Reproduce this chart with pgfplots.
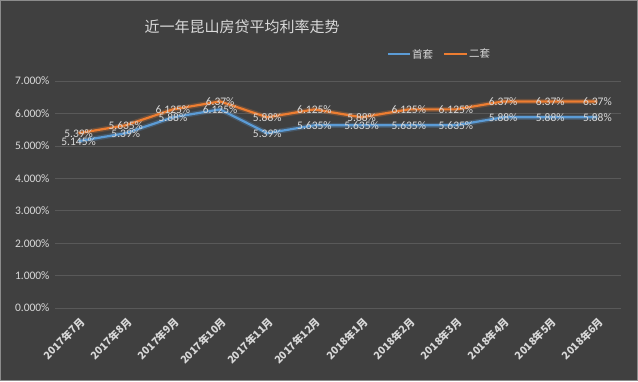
\documentclass[border=0pt]{standalone}
\usepackage{pgfplots}
\pgfplotsset{compat=1.18}
\usepackage{fontspec}
\setmainfont{Carlito}
\newfontfamily\cjk{Noto Sans CJK SC}
\definecolor{bg}{HTML}{404040}
\definecolor{txt}{HTML}{D9D9D9}
\definecolor{gridc}{HTML}{595959}
\definecolor{sblue}{HTML}{5B9BD5}
\definecolor{sorange}{HTML}{ED7D31}
\begin{document}
\begin{tikzpicture}
\useasboundingbox (-55pt,-73pt) rectangle (583pt,308pt);
\fill[bg] (-55pt,-73pt) rectangle (583pt,308pt);
\draw[black!45,line width=0.8pt] (-54.6pt,-72.6pt) rectangle (582.6pt,307.6pt);
\begin{axis}[
  at={(0pt,0pt)}, anchor=south west,
  scale only axis, width=566pt, height=227pt,
  xmin=-0.5, xmax=11.5, ymin=0, ymax=7,
  axis line style={draw=none},
  tick style={draw=none},
  ymajorgrids, grid style={gridc, line width=0.6pt},
  ytick={0,1,2,3,4,5,6,7},
  yticklabels={0.000\%,1.000\%,2.000\%,3.000\%,4.000\%,5.000\%,6.000\%,7.000\%},
  yticklabel style={font=\fontsize{11.5}{13}\selectfont, text=txt, xshift=-2pt},
  xtick={0,...,11},
  xticklabels={2017年7月,2017年8月,2017年9月,2017年10月,2017年11月,2017年12月,2018年1月,2018年2月,2018年3月,2018年4月,2018年5月,2018年6月},
  xticklabel style={font=\cjk\bfseries\fontsize{10.5}{12}\selectfont, text=txt, xshift=5pt, yshift=-11pt, rotate=45, anchor=east, inner sep=1pt},
  nodes near coords, point meta=explicit symbolic,
  every node near coord/.style={anchor=center, font=\fontsize{11.5}{13}\selectfont, text=txt},
  clip=false,
]
\addplot[sorange, line width=5pt, opacity=0.25, nodes near coords={}, forget plot] coordinates {(0,5.39)(1,5.635)(2,6.125)(3,6.37)(4,5.88)(5,6.125)(6,5.88)(7,6.125)(8,6.125)(9,6.37)(10,6.37)(11,6.37)};
\addplot[sblue, line width=5pt, opacity=0.25, nodes near coords={}, forget plot] coordinates {(0,5.145)(1,5.39)(2,5.88)(3,6.125)(4,5.39)(5,5.635)(6,5.635)(7,5.635)(8,5.635)(9,5.88)(10,5.88)(11,5.88)};
\addplot[sorange, line width=2.2pt] coordinates {(0,5.39)[5.39\%](1,5.635)[5.635\%](2,6.125)[6.125\%](3,6.37)[6.37\%](4,5.88)[5.88\%](5,6.125)[6.125\%](6,5.88)[5.88\%](7,6.125)[6.125\%](8,6.125)[6.125\%](9,6.37)[6.37\%](10,6.37)[6.37\%](11,6.37)[6.37\%]};
\addplot[sblue, line width=2.2pt] coordinates {(0,5.145)[5.145\%](1,5.39)[5.39\%](2,5.88)[5.88\%](3,6.125)[6.125\%](4,5.39)[5.39\%](5,5.635)[5.635\%](6,5.635)[5.635\%](7,5.635)[5.635\%](8,5.635)[5.635\%](9,5.88)[5.88\%](10,5.88)[5.88\%](11,5.88)[5.88\%]};
\end{axis}
\node[text=txt, font=\cjk\fontsize{15}{18}\selectfont] at (187pt,281pt) {近一年昆山房贷平均利率走势};
\draw[sblue, line width=2.2pt] (333pt,254pt) -- (355pt,254pt);
\node[text=txt, font=\cjk\fontsize{10.5}{12}\selectfont, anchor=west, inner sep=1pt] at (356pt,254pt) {首套};
\draw[sorange, line width=2.2pt] (389pt,254pt) -- (412pt,254pt);
\node[text=txt, font=\cjk\fontsize{10.5}{12}\selectfont, anchor=west, inner sep=1pt] at (413pt,254pt) {二套};
\end{tikzpicture}
\end{document}
